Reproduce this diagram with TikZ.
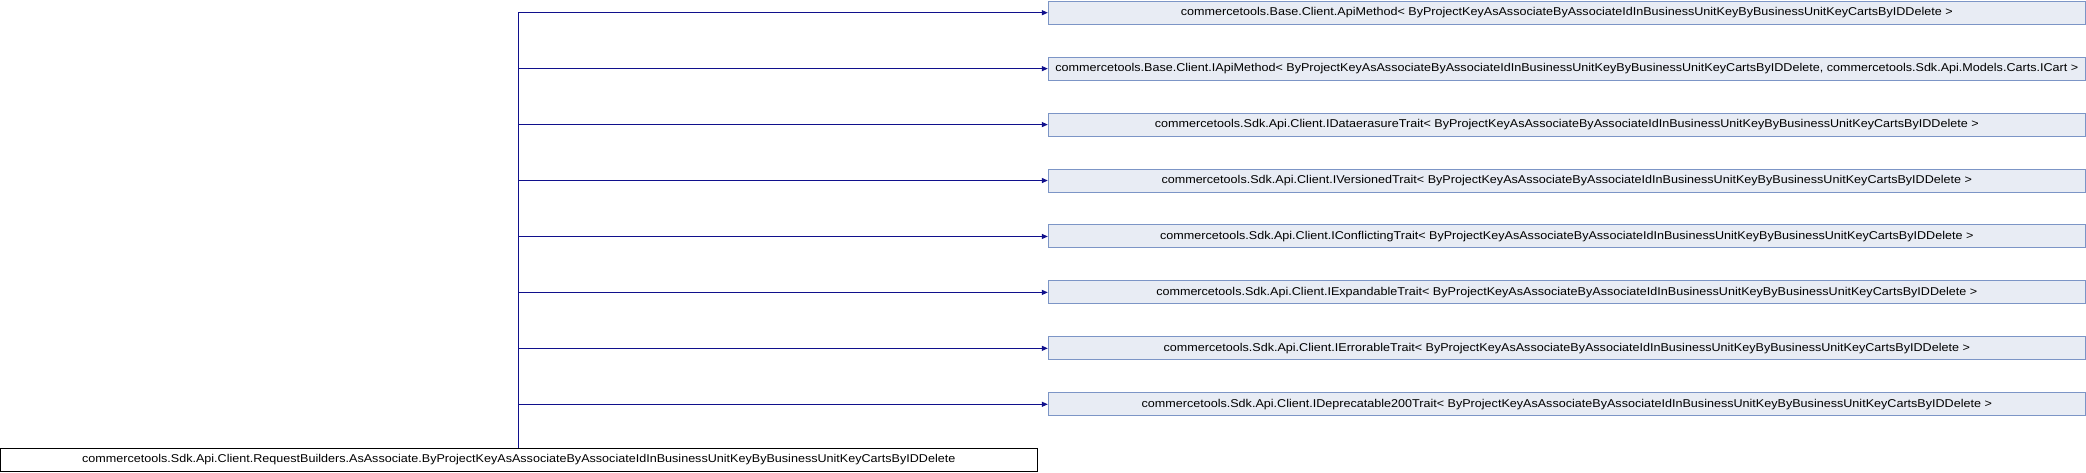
\documentclass[tikz,border=0pt]{standalone}
\usepackage{fontspec}
\setmainfont{Liberation Sans}
\newfontfamily\doxyfont[FakeStretch=1.11]{Liberation Sans}
\usetikzlibrary{arrows.meta}
\definecolor{boxfill}{RGB}{232,236,244}
\definecolor{boxline}{RGB}{124,149,198}
\definecolor{edgecol}{RGB}{16,16,140}
\tikzset{
  cls/.style={draw=boxline, fill=boxfill, line width=0.75pt, minimum width=777.75pt, minimum height=17.25pt, inner sep=0pt, font=\doxyfont\fontsize{8.5}{10}\selectfont},
  mainbox/.style={draw=black, fill=white, line width=0.75pt, minimum width=777.4pt, minimum height=16.9pt, inner sep=0pt, font=\doxyfont\fontsize{8.5}{10}\selectfont},
  edge/.style={draw=edgecol, line width=0.75pt, -{Triangle[length=4.5pt,width=3.8pt]}}
}
\begin{document}
\begin{tikzpicture}[x=0.75pt,y=-0.75pt]
\useasboundingbox (0,0) rectangle (2086,472);
\node[mainbox] (b) at (518.75,459.75) {commercetools.Sdk.Api.Client.RequestBuilders.AsAssociate.ByProjectKeyAsAssociateByAssociateIdInBusinessUnitKeyByBusinessUnitKeyCartsByIDDelete};
\node[cls] (r1) at (1566.8,12.7) {commercetools.Base.Client.ApiMethod< ByProjectKeyAsAssociateByAssociateIdInBusinessUnitKeyByBusinessUnitKeyCartsByIDDelete >};
\node[cls] (r2) at (1566.8,68.64) {commercetools.Base.Client.IApiMethod< ByProjectKeyAsAssociateByAssociateIdInBusinessUnitKeyByBusinessUnitKeyCartsByIDDelete, commercetools.Sdk.Api.Models.Carts.ICart >};
\node[cls] (r3) at (1566.8,124.58) {commercetools.Sdk.Api.Client.IDataerasureTrait< ByProjectKeyAsAssociateByAssociateIdInBusinessUnitKeyByBusinessUnitKeyCartsByIDDelete >};
\node[cls] (r4) at (1566.8,180.52) {commercetools.Sdk.Api.Client.IVersionedTrait< ByProjectKeyAsAssociateByAssociateIdInBusinessUnitKeyByBusinessUnitKeyCartsByIDDelete >};
\node[cls] (r5) at (1566.8,236.46) {commercetools.Sdk.Api.Client.IConflictingTrait< ByProjectKeyAsAssociateByAssociateIdInBusinessUnitKeyByBusinessUnitKeyCartsByIDDelete >};
\node[cls] (r6) at (1566.8,292.4) {commercetools.Sdk.Api.Client.IExpandableTrait< ByProjectKeyAsAssociateByAssociateIdInBusinessUnitKeyByBusinessUnitKeyCartsByIDDelete >};
\node[cls] (r7) at (1566.8,348.34) {commercetools.Sdk.Api.Client.IErrorableTrait< ByProjectKeyAsAssociateByAssociateIdInBusinessUnitKeyByBusinessUnitKeyCartsByIDDelete >};
\node[cls] (r8) at (1566.8,404.3) {commercetools.Sdk.Api.Client.IDeprecatable200Trait< ByProjectKeyAsAssociateByAssociateIdInBusinessUnitKeyByBusinessUnitKeyCartsByIDDelete >};
\foreach \r in {r1,r2,r3,r4,r5,r6,r7,r8}{
  \draw[edge] (b.north) |- (\r.west);
}
\end{tikzpicture}
\end{document}
